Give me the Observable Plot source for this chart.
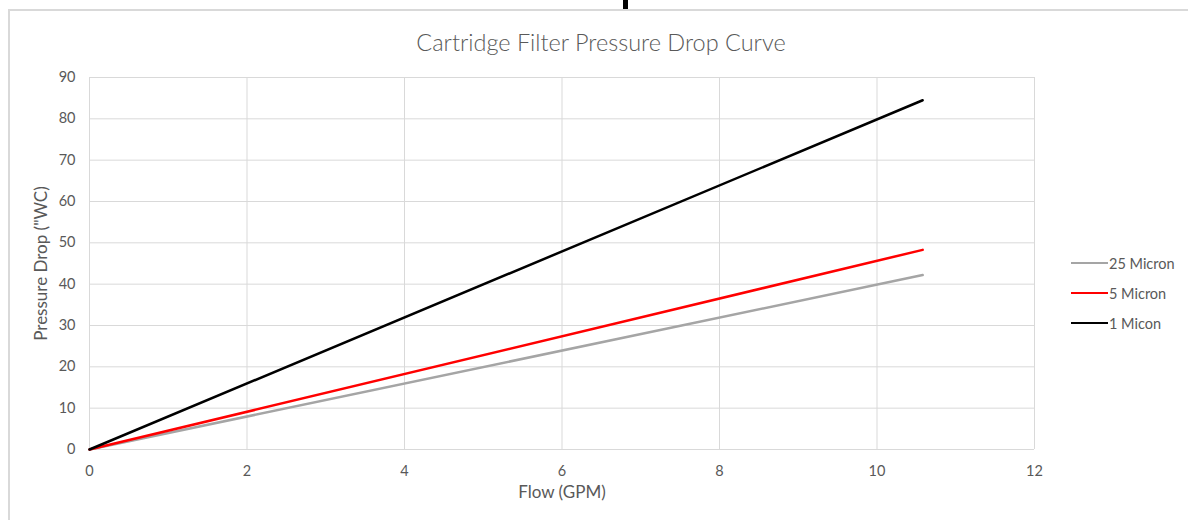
<!DOCTYPE html>
<html>
<head>
<meta charset="utf-8">
<script src="https://cdn.jsdelivr.net/npm/d3@7"></script>
<script src="https://cdn.jsdelivr.net/npm/@observablehq/plot@0.6"></script>
<style>
  html, body { margin: 0; padding: 0; background: #fff; }
  body { width: 1188px; height: 520px; overflow: hidden; position: relative; font-family: Lato, "Open Sans", sans-serif; }
  #frame { position: absolute; left: 8px; top: 9px; width: 1300px; height: 700px; border-top: 2px solid #d9d9d9; border-left: 2px solid #d9d9d9; }
  #bar { position: absolute; left: 623px; top: 0; width: 5px; height: 9px; background: #000; }
  #title { position: relative; height: 60px; text-align: center; font-size: 23.5px; font-weight: 300; color: #595959; line-height: 24px; }
  #title span { position: absolute; left: 14px; right: 0; top: 30px; }
  #chart { position: relative; }
  .leg { position: absolute; left: 1071px; font-size: 14.5px; color: #595959; display: flex; align-items: center; height: 18px; }
  .leg i { display: inline-block; width: 37px; height: 2.5px; margin-right: 1px; }
</style>
</head>
<body>
<div id="frame"></div>
<div id="bar"></div>
<div id="title"><span>Cartridge Filter Pressure Drop Curve</span></div>
<div id="chart"></div>
<div id="legend"></div>
<script>
const flowGPM = [0, 10.58];
const micron25 = [0, 42.2];
const micron5 = [0, 48.3];
const micron1 = [0, 84.5];
const seriesNames = ["25 Micron", "5 Micron", "1 Micon"];
const seriesColors = ["#a5a5a5", "#ff0000", "#000000"];
const xTicks = [0, 2, 4, 6, 8, 10, 12];
const yTicks = [0, 10, 20, 30, 40, 50, 60, 70, 80, 90];
const xLabel = "Flow (GPM)";
const yLabel = "Pressure Drop (\"WC)";

const seriesValues = [micron25, micron5, micron1];
const rows = [];
seriesNames.forEach((name, i) => {
  flowGPM.forEach((f, j) => rows.push({series: name, flow: f, drop: seriesValues[i][j]}));
});

const plot = Plot.plot({
  width: 1188,
  height: 460,
  marginLeft: 89,
  marginRight: 154,
  marginTop: 17,
  marginBottom: 71,
  style: {fontFamily: "Lato, 'Open Sans', sans-serif", fontSize: "14.5px", color: "#595959", background: "transparent"},
  x: {domain: [0, 12]},
  y: {domain: [0, 90]},
  color: {domain: seriesNames, range: seriesColors},
  marks: [
    Plot.gridX(xTicks, {stroke: "#d9d9d9", strokeOpacity: 1, strokeWidth: 1}),
    Plot.gridY(yTicks, {stroke: "#d9d9d9", strokeOpacity: 1, strokeWidth: 1}),
    Plot.axisX(xTicks, {tickSize: 0, tickPadding: 16, fontSize: 14.5, label: null}),
    Plot.axisY(yTicks, {tickSize: 0, tickPadding: 14, fontSize: 14.5, label: null}),
    Plot.text([xLabel], {frameAnchor: "bottom", dy: 48, fontSize: 17, fill: "#595959"}),
    Plot.text([yLabel], {frameAnchor: "left", textAnchor: "middle", dx: -48, rotate: -90, fontSize: 17, fill: "#595959"}),
    Plot.line(rows, {x: "flow", y: "drop", z: "series", stroke: "series", strokeWidth: 2.5})
  ]
});
document.getElementById("chart").appendChild(plot);

const legend = document.getElementById("legend");
const legTops = [254, 284, 314];
seriesNames.forEach((name, i) => {
  const d = document.createElement("div");
  d.className = "leg";
  d.style.top = legTops[i] + "px";
  d.innerHTML = `<i style="background:${seriesColors[i]}"></i><span>${name}</span>`;
  legend.appendChild(d);
});
</script>
</body>
</html>
